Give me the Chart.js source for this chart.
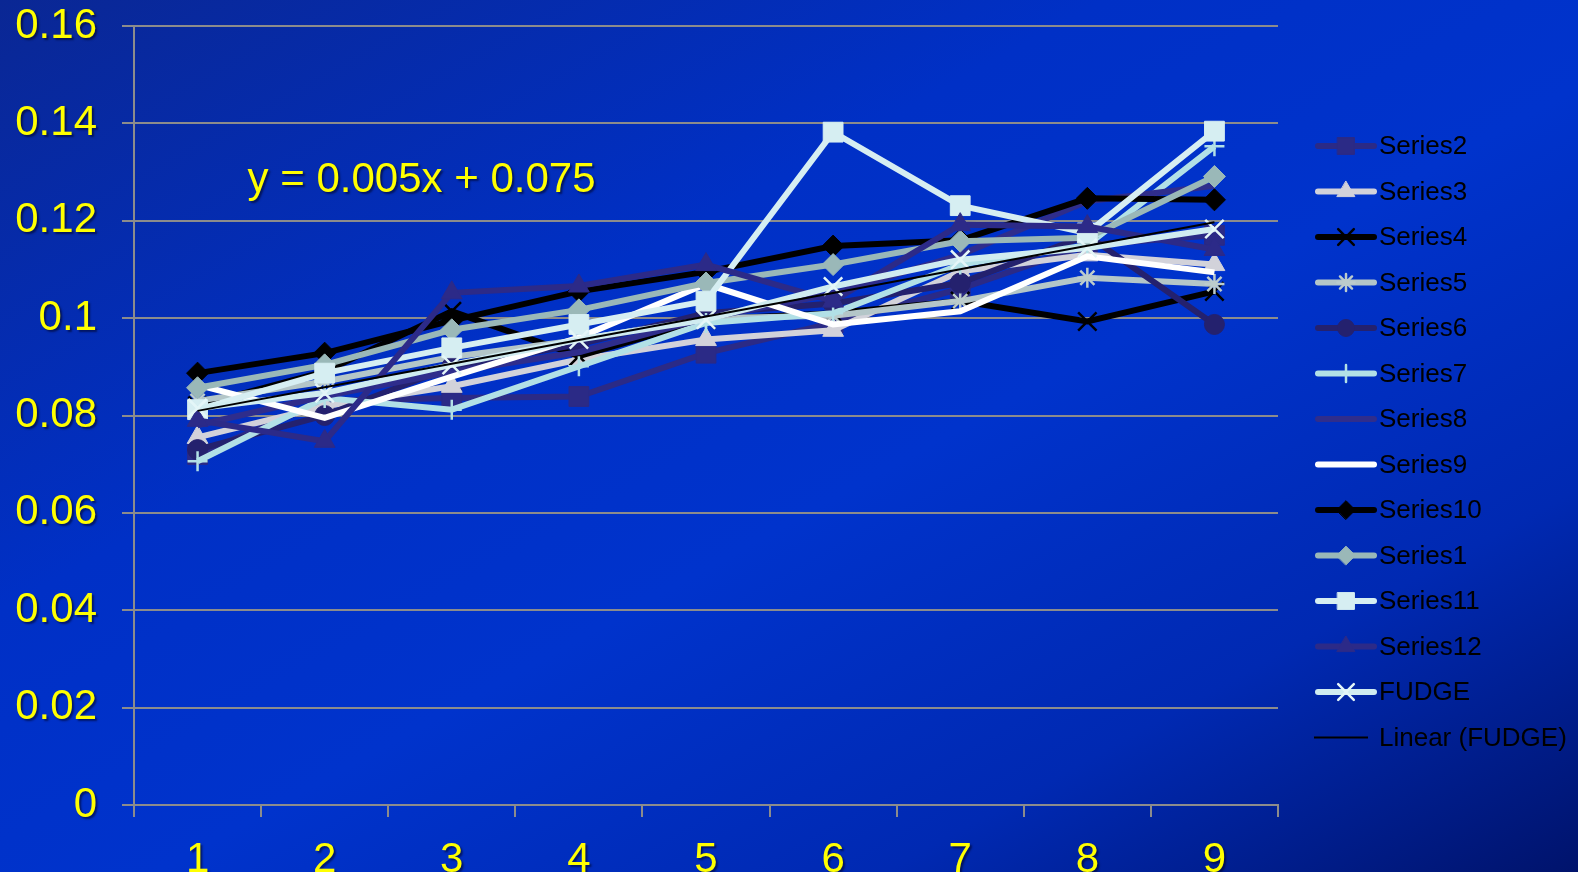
<!DOCTYPE html>
<html>
<head>
<meta charset="utf-8">
<script src="https://cdn.jsdelivr.net/npm/chart.js@4.4.0/dist/chart.umd.min.js"></script>
<style>
  html, body { margin: 0; padding: 0; width: 1578px; height: 872px; overflow: hidden; }
  body {
    background: linear-gradient(to bottom right, #0a2794 0%, #0030c6 35%, #0033cc 55%, #0029b2 78%, #00136c 100%);
  }
  #fudgeChart { position: absolute; left: 0; top: 0; }
</style>
</head>
<body>
<canvas id="fudgeChart" width="1578" height="881"></canvas>
<script>
const labels = ["1", "2", "3", "4", "5", "6", "7", "8", "9"];

const series2 = [0.072, 0.083, 0.0836, 0.0839, 0.0928, 0.099, 0.106, 0.115, 0.117];
const series3 = [0.0755, 0.0819, 0.086, 0.0915, 0.0956, 0.0975, 0.1096, 0.113, 0.111];
const series4 = [0.082, 0.089, 0.1014, 0.0922, 0.0997, 0.101, 0.1035, 0.0993, 0.1055];
const series5 = [0.083, 0.087, 0.092, 0.0955, 0.1, 0.1005, 0.1035, 0.1083, 0.107];
const series6 = [0.073, 0.08, 0.09, 0.0946, 0.101, 0.103, 0.1072, 0.117, 0.0987];
const series7 = [0.0706, 0.0836, 0.0812, 0.0901, 0.099, 0.101, 0.111, 0.115, 0.1353];
const series8 = [0.078, 0.084, 0.089, 0.093, 0.1, 0.105, 0.113, 0.124, 0.1272];
const series9 = [0.0863, 0.0795, 0.088, 0.096, 0.107, 0.0987, 0.1014, 0.1127, 0.1094];
const series10 = [0.0887, 0.0928, 0.0995, 0.1055, 0.1095, 0.1148, 0.116, 0.1246, 0.1243];
const series1 = [0.0857, 0.0904, 0.0976, 0.1017, 0.1072, 0.111, 0.1158, 0.1165, 0.1291];
const series11 = [0.0812, 0.0887, 0.0939, 0.0987, 0.1035, 0.1382, 0.1231, 0.1175, 0.1384];
const series12 = [0.079, 0.0747, 0.1052, 0.1066, 0.111, 0.1035, 0.1192, 0.1188, 0.1141];
const fudge = [0.0815, 0.0846, 0.0904, 0.0956, 0.0997, 0.1065, 0.112, 0.1144, 0.1183];

const yTicks = [0, 0.02, 0.04, 0.06, 0.08, 0.1, 0.12, 0.14, 0.16];
const equationText = "y = 0.005x + 0.075";

const FONT = "'Liberation Sans', Arial, sans-serif";
const GRID = "#8c8c8c";

// least squares line through FUDGE, x = 1..n
function linearFit(vals) {
  const n = vals.length;
  const xs = vals.map((_, i) => i + 1);
  const mx = xs.reduce((a, b) => a + b, 0) / n;
  const my = vals.reduce((a, b) => a + b, 0) / n;
  let num = 0, den = 0;
  xs.forEach((x, i) => { num += (x - mx) * (vals[i] - my); den += (x - mx) ** 2; });
  const slope = num / den;
  return { slope, intercept: my - slope * mx };
}
const fit = linearFit(fudge);
const trend = labels.map((_, i) => fit.intercept + fit.slope * (i + 1));

function line(label, data, color, style, radius, marker, strokeMarker) {
  return {
    label,
    data,
    borderColor: color,
    borderWidth: 6,
    tension: 0,
    pointStyle: style || false,
    pointRadius: style ? radius : 0,
    pointBackgroundColor: marker || color,
    pointBorderColor: marker || color,
    pointBorderWidth: strokeMarker ? 2.5 : 1,
  };
}

const datasets = [
  line("Series2", series2, "#2b2a86", "rect", 14, "#2b2a86"),
  line("Series3", series3, "#d2d2da", "triangle", 12, "#d2d2da"),
  line("Series4", series4, "#000000", "crossRot", 13, "#000000", true),
  line("Series5", series5, "#b4c6c8", "star", 10, "#bccccc", true),
  line("Series6", series6, "#24216e", "circle", 10, "#24216e"),
  line("Series7", series7, "#b2e0e6", "cross", 10, "#b2e0e6", true),
  line("Series8", series8, "#2f2d8c", null, 0),
  line("Series9", series9, "#ffffff", null, 0),
  line("Series10", series10, "#000000", "rectRot", 11, "#000000"),
  line("Series1", series1, "#9ab8b8", "rectRot", 11, "#9ab8b8"),
  line("Series11", series11, "#d6eef2", "rect", 14, "#d6eef2"),
  line("Series12", series12, "#2c2a88", "triangle", 12, "#2c2a88"),
  line("FUDGE", fudge, "#d0ecf0", "crossRot", 13, "#e4f6f8", true),
  {
    label: "Linear (FUDGE)",
    data: trend,
    borderColor: "#000000",
    borderWidth: 2,
    pointRadius: 0,
    pointStyle: false,
    tension: 0,
  },
];
// later series sit on top, as in the original
datasets.forEach((ds, i) => { ds.order = datasets.length - i; });

const textAndLegend = {
  id: "textAndLegend",
  afterDatasetsDraw(chart) {
    const c = chart.ctx;
    c.save();
    c.shadowColor = "rgba(0,0,30,0.55)";
    c.shadowOffsetX = 2;
    c.shadowOffsetY = 2;
    c.shadowBlur = 2;
  },
  afterDraw(chart) {
    const { ctx, chartArea, scales } = chart;
    // equation of the trend line
    ctx.font = "42px " + FONT;
    ctx.fillStyle = "#ffff00";
    ctx.textAlign = "left";
    ctx.textBaseline = "middle";
    ctx.fillText(equationText, scales.x.getPixelForValue(0) + 50, scales.y.getPixelForValue(0.1282));
    ctx.restore();

    // legend on the right
    const x0 = chartArea.right + 40;
    const len = 56;
    const top = 146, step = 45.5;
    chart.data.datasets.forEach((ds, i) => {
      const y = top + i * step;
      const thick = ds.borderWidth > 2;
      ctx.save();
      ctx.strokeStyle = ds.borderColor;
      ctx.lineWidth = ds.borderWidth;
      ctx.lineCap = thick ? "round" : "butt";
      ctx.beginPath();
      ctx.moveTo(x0 + (thick ? 0 : -4), y);
      ctx.lineTo(x0 + len - (thick ? 0 : 6), y);
      ctx.stroke();
      if (ds.pointRadius > 0) {
        ctx.fillStyle = ds.pointBackgroundColor;
        ctx.strokeStyle = ds.pointBorderColor;
        ctx.lineWidth = ds.pointBorderWidth;
        Chart.helpers.drawPoint(ctx, {
          pointStyle: ds.pointStyle,
          radius: ds.pointRadius * 0.85,
          rotation: 0,
          borderWidth: ds.pointBorderWidth,
        }, x0 + len / 2, y);
      }
      ctx.fillStyle = "#000000";
      ctx.font = "26px " + FONT;
      ctx.textAlign = "left";
      ctx.textBaseline = "middle";
      ctx.fillText(ds.label, x0 + len + 5, y + 1);
      ctx.restore();
    });
  },
};

new Chart(document.getElementById("fudgeChart"), {
  type: "line",
  data: { labels, datasets },
  options: {
    responsive: false,
    animation: false,
    devicePixelRatio: 1,
    layout: { padding: { left: 15, right: 300, top: 26, bottom: 0 } },
    plugins: {
      legend: { display: false },
      tooltip: { enabled: false },
    },
    scales: {
      x: {
        offset: true,
        afterFit: axis => { axis.height = 76; },
        grid: { offset: true, drawOnChartArea: false, drawTicks: true, tickLength: 12, color: GRID, lineWidth: 2 },
        border: { color: GRID, width: 2 },
        ticks: { color: "#ffff00", font: { family: FONT, size: 42 }, padding: 18, z: 1, maxRotation: 0 },
      },
      y: {
        min: 0,
        max: 0.16,
        afterFit: axis => { axis.width = 119; axis.paddingTop = 0; axis.paddingBottom = 0; },
        afterBuildTicks: axis => { axis.ticks = yTicks.map(v => ({ value: v })); },
        grid: { color: GRID, lineWidth: 2, tickLength: 12 },
        border: { color: GRID, width: 2 },
        ticks: {
          color: "#ffff00",
          font: { family: FONT, size: 42 },
          padding: 25,
          z: 1,
          callback: v => String(+Number(v).toFixed(2)),
        },
      },
    },
  },
  plugins: [textAndLegend],
});
</script>
</body>
</html>
